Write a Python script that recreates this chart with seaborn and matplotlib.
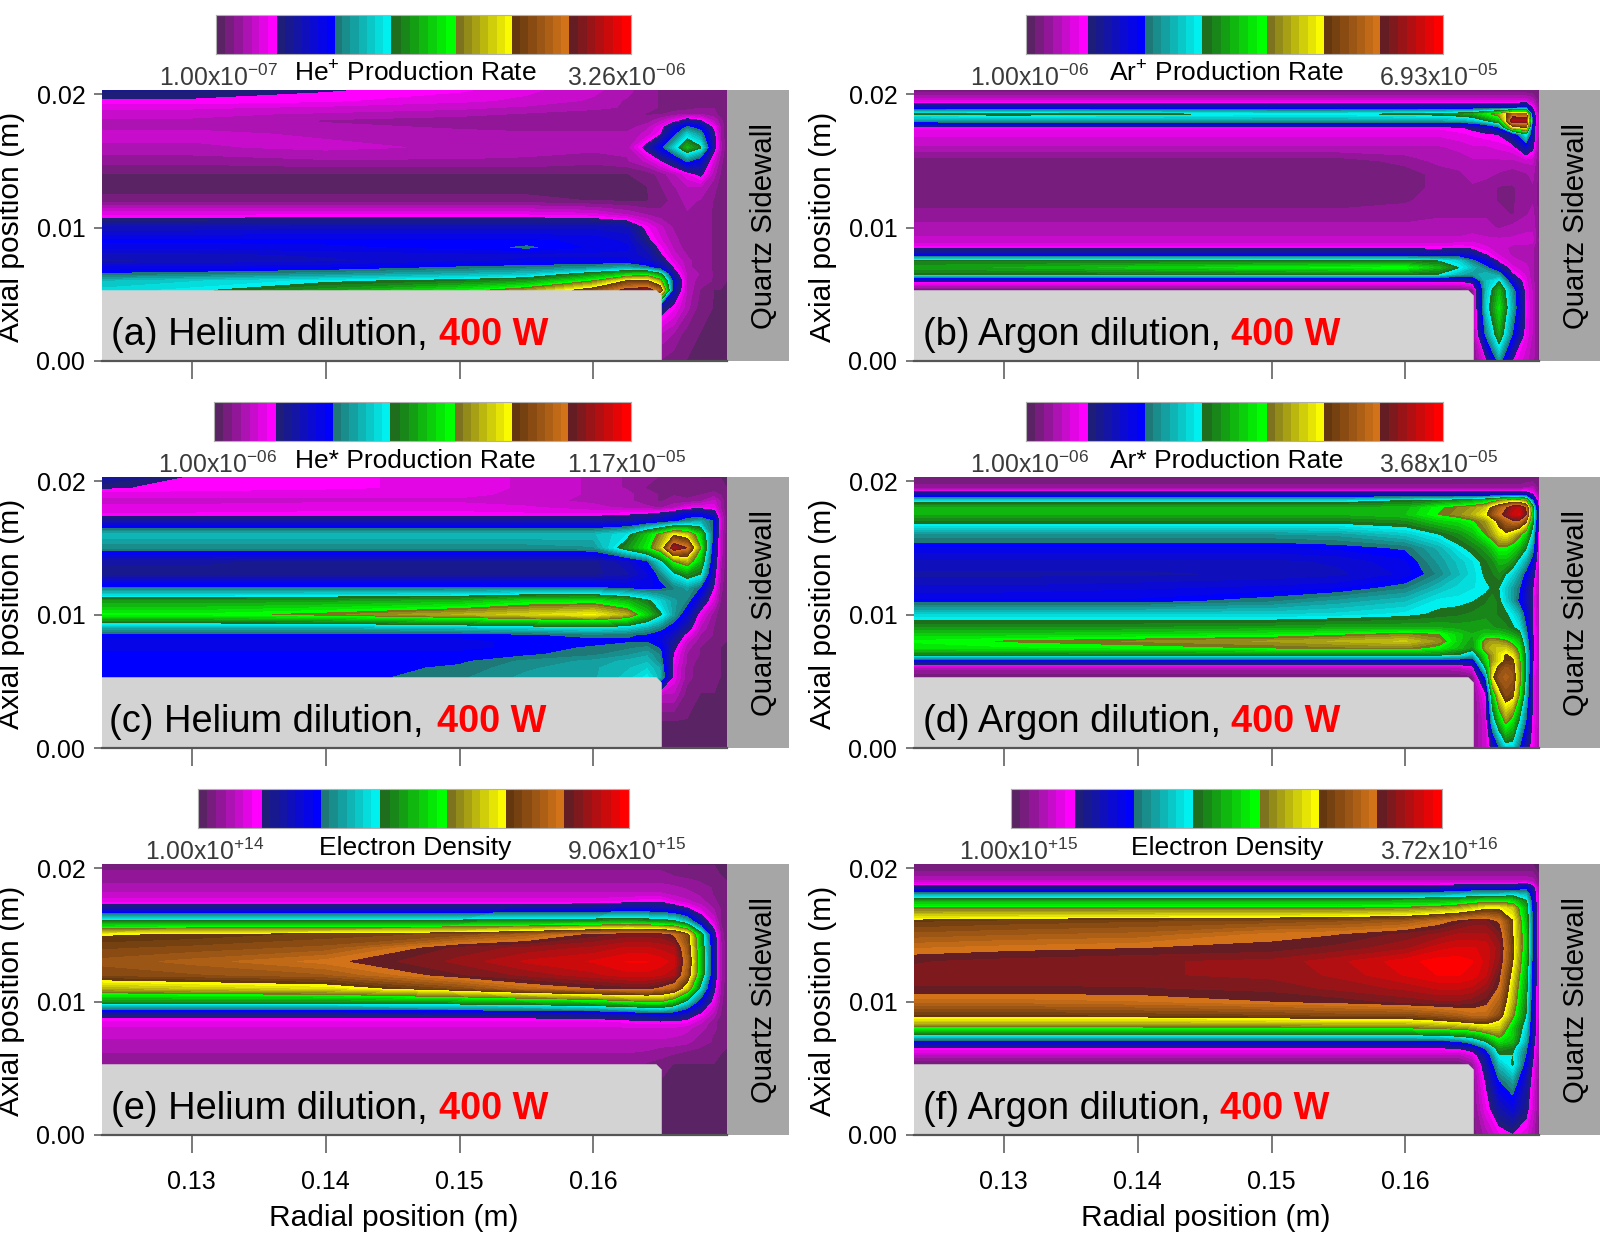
# ---------------------------
# PLASMA CONTOUR PANELS, HELIUM VS ARGON DILUTION
# ---------------------------

import numpy as np
import matplotlib
matplotlib.use("Agg")
import matplotlib.pyplot as plt
import seaborn as sns
from matplotlib.colors import BoundaryNorm, ListedColormap
from matplotlib.patches import Polygon, Rectangle

# ---------------------------
# DATA (percent of each panel's colour scale)
# ---------------------------

radial_m = [0.1233, 0.13, 0.14, 0.15, 0.155, 0.16, 0.1625, 0.164,
            0.165, 0.166, 0.167, 0.168, 0.169, 0.1695, 0.17]
# panel (d) has finer structure near the wall
radial_fine_m = [0.1233, 0.13, 0.14, 0.15, 0.155, 0.16, 0.1625, 0.164, 0.165,
                 0.166, 0.1665, 0.167, 0.1675, 0.168, 0.1685, 0.169, 0.1695, 0.17]
axial_m = [0.0203, 0.0195, 0.019, 0.0185, 0.018, 0.0175, 0.017, 0.016, 0.015,
           0.014, 0.013, 0.012, 0.011, 0.01, 0.009, 0.0085, 0.008, 0.0075,
           0.007, 0.0065, 0.006, 0.0053, 0.004, 0.002, 0.0]

he_ion = [
    [17, 17, 15, 13, 11, 9, 7, 5, 4, 3, 3, 3, 3, 3, 2],
    [14, 14, 13, 11, 10, 8, 6, 5, 4, 3, 3, 3, 3, 3, 2],
    [11, 11, 10, 9, 8, 7, 6, 5, 4, 3, 3, 4, 4, 3, 2],
    [9, 9, 8, 7, 6, 5, 5, 4, 4, 5, 6, 6, 5, 3, 2],
    [8, 8, 6, 5, 5, 5, 5, 5, 8, 12, 18, 15, 8, 5, 2],
    [8, 8, 7, 6, 5, 5, 5, 8, 12, 22, 30, 26, 13, 6, 2],
    [9, 9, 8, 7, 7, 7, 7, 9, 14, 26, 38, 32, 16, 6, 2],
    [8, 8, 9, 8, 7, 7, 7, 17, 26, 38, 50, 43, 17, 7, 2],
    [5, 5, 6, 6, 6, 5, 6, 9, 14, 20, 30, 24, 10, 5, 2],
    [2, 2, 2, 2, 2, 2, 2, 3, 5, 8, 12, 16, 7, 4, 2],
    [1, 1, 1, 1, 1, 1, 1, 2, 4, 6, 8, 8, 5, 3, 2],
    [3, 3, 3, 3, 3, 2, 2, 2, 3, 5, 7, 6, 4, 3, 2],
    [12, 12, 12, 12, 12, 11, 8, 6, 5, 6, 6, 5, 4, 3, 2],
    [21, 21, 22, 22, 22, 22, 21, 13, 9, 6, 5, 5, 4, 3, 2],
    [27, 27, 27, 27, 27, 26, 24, 16, 11, 7, 5, 5, 4, 3, 2],
    [25, 25, 26, 27, 29, 26, 25, 19, 13, 8, 5, 5, 4, 3, 2],
    [22, 22, 23, 24, 24, 24, 24, 21, 15, 9, 6, 5, 4, 3, 2],
    [20, 21, 22, 24, 25, 25, 25, 23, 18, 11, 7, 5, 4, 3, 2],
    [25, 25, 26, 29, 30, 32, 34, 30, 24, 14, 7, 5, 4, 3, 2],
    [29, 30, 32, 35, 37, 46, 52, 54, 45, 18, 8, 6, 4, 3, 2],
    [36, 38, 41, 44, 47, 58, 72, 73, 62, 24, 8, 5, 4, 3, 2],
    [39, 41, 48, 55, 62, 76, 88, 90, 80, 22, 8, 4, 2, 2, 2],
    [0, 0, 0, 0, 0, 0, 0, 0, 18, 13, 7, 3, 2, 2, 2],
    [0, 0, 0, 0, 0, 0, 0, 0, 8, 6, 3, 2, 2, 2, 2],
    [0, 0, 0, 0, 0, 0, 0, 0, 4, 3, 2, 2, 2, 2, 2],
]

ar_ion = [
    [2, 2, 2, 2, 2, 2, 2, 2, 2, 2, 2, 2, 2, 2, 2],
    [10, 10, 10, 10, 10, 10, 10, 10, 10, 10, 10, 10, 10, 8, 3],
    [22, 22, 22, 22, 22, 22, 22, 22, 22, 22, 22, 22, 25, 14, 3],
    [43, 44, 43, 41, 41, 43, 44, 46, 48, 55, 62, 80, 78, 20, 3],
    [32, 33, 33, 33, 33, 33, 33, 34, 36, 42, 50, 92, 92, 24, 3],
    [13, 13, 13, 13, 13, 13, 13, 14, 16, 19, 28, 68, 72, 20, 3],
    [11, 11, 11, 11, 11, 11, 11, 12, 13, 14, 15, 22, 42, 20, 3],
    [8, 8, 8, 8, 8, 8, 8, 9, 10, 10, 11, 12, 22, 16, 3],
    [3, 3, 3, 3, 3, 5, 7, 7, 8, 8, 8, 8, 9, 9, 3],
    [3, 3, 3, 3, 3, 3, 5, 6, 7, 7, 6, 5, 6, 7, 3],
    [3, 3, 3, 3, 3, 3, 5, 6, 6, 5, 4, 4, 5, 6, 3],
    [3, 3, 3, 3, 3, 4, 5, 6, 6, 5, 4, 4, 5, 6, 3],
    [5, 5, 5, 5, 5, 5, 6, 6, 6, 6, 5, 4, 6, 7, 3],
    [7, 7, 7, 7, 7, 7, 7, 7, 7, 7, 6, 7, 8, 8, 3],
    [9, 9, 9, 9, 9, 9, 9, 9, 10, 9, 9, 9, 9, 9, 3],
    [13, 13, 13, 13, 13, 13, 13, 14, 13, 11, 9, 8, 8, 7, 3],
    [22, 22, 22, 22, 22, 22, 20, 22, 20, 14, 10, 8, 8, 7, 3],
    [44, 44, 44, 44, 44, 44, 42, 38, 30, 24, 13, 9, 8, 7, 3],
    [48, 49, 52, 55, 56, 57, 50, 42, 36, 30, 20, 11, 9, 7, 3],
    [43, 43, 43, 43, 43, 43, 42, 35, 33, 36, 32, 15, 10, 7, 3],
    [15, 15, 15, 15, 15, 15, 15, 15, 18, 36, 42, 22, 11, 7, 3],
    [2, 2, 2, 2, 2, 2, 2, 2, 4, 36, 50, 32, 12, 8, 3],
    [0, 0, 0, 0, 0, 0, 0, 0, 3, 38, 54, 34, 13, 8, 3],
    [0, 0, 0, 0, 0, 0, 0, 0, 3, 30, 48, 28, 12, 8, 3],
    [0, 0, 0, 0, 0, 0, 0, 0, 3, 12, 32, 14, 9, 7, 3],
]

he_meta = [
    [20, 14, 13, 12, 10, 8, 6, 5, 4, 3, 3, 2, 2, 2, 2],
    [15, 14, 13, 12, 10, 8, 6, 4, 4, 3, 3, 3, 3, 3, 2],
    [11, 11, 11, 11, 10, 8, 7, 5, 4, 4, 3, 4, 5, 4, 2],
    [10, 10, 10, 10, 9, 8, 7, 5, 4, 5, 5, 6, 9, 6, 2],
    [11, 11, 12, 12, 11, 9, 8, 7, 6, 8, 12, 13, 12, 6, 2],
    [13, 13, 13, 13, 13, 13, 14, 15, 17, 20, 25, 24, 19, 8, 2],
    [19, 19, 19, 19, 19, 19, 20, 22, 24, 27, 31, 34, 28, 10, 2],
    [36, 36, 36, 36, 36, 36, 40, 52, 60, 70, 66, 52, 26, 8, 2],
    [31, 31, 31, 31, 31, 32, 46, 55, 65, 92, 85, 58, 22, 8, 2],
    [19, 19, 18, 18, 18, 18, 22, 28, 40, 58, 64, 50, 20, 7, 2],
    [18, 18, 18, 18, 18, 18, 20, 24, 30, 40, 46, 42, 17, 6, 2],
    [29, 29, 29, 29, 29, 29, 27, 26, 27, 30, 33, 28, 14, 5, 2],
    [47, 47, 48, 50, 54, 55, 50, 44, 38, 33, 30, 20, 10, 4, 2],
    [56, 56, 59, 64, 67, 70, 64, 52, 43, 33, 24, 12, 5, 3, 2],
    [34, 34, 34, 36, 38, 40, 38, 34, 30, 25, 18, 8, 4, 3, 2],
    [27, 27, 27, 27, 28, 30, 29, 28, 26, 21, 13, 6, 4, 3, 2],
    [26, 26, 26, 26, 27, 27, 28, 28, 25, 19, 9, 5, 3, 3, 2],
    [26, 26, 26, 26, 27, 29, 30, 31, 28, 16, 7, 4, 3, 2, 2],
    [27, 27, 27, 27, 28, 30, 32, 34, 30, 14, 6, 4, 3, 2, 2],
    [27, 27, 27, 28, 31, 33, 35, 36, 31, 13, 6, 3, 3, 2, 2],
    [27, 27, 27, 29, 32, 34, 36, 38, 34, 12, 5, 3, 3, 2, 2],
    [27, 27, 27, 30, 33, 34, 37, 41, 35, 12, 5, 3, 3, 2, 2],
    [0, 0, 0, 0, 0, 0, 0, 0, 8, 8, 3, 2, 2, 2, 2],
    [0, 0, 0, 0, 0, 0, 0, 0, 2, 2, 2, 2, 2, 2, 2],
    [0, 0, 0, 0, 0, 0, 0, 0, 2, 2, 2, 2, 2, 2, 2],
]

ar_meta = [
    [2, 2, 2, 2, 2, 2, 2, 2, 2, 2, 2, 2, 2, 2, 2, 2, 2, 2],
    [5, 5, 5, 5, 5, 5, 5, 5, 5, 5, 5, 5, 5, 5, 5, 6, 7, 3],
    [20, 20, 20, 20, 20, 20, 20, 20, 20, 20, 20, 20, 20, 20, 20, 20, 15, 4],
    [40, 40, 40, 40, 40, 43, 45, 47, 49, 52, 56, 60, 64, 68, 66, 60, 30, 8],
    [49, 49, 49, 49, 49, 50, 57, 60, 62, 66, 74, 80, 84, 92, 94, 84, 46, 9],
    [49, 49, 49, 49, 49, 51, 58, 61, 64, 70, 78, 83, 88, 94, 96, 86, 50, 10],
    [44, 44, 44, 44, 44, 46, 52, 54, 57, 62, 68, 74, 80, 84, 84, 74, 46, 10],
    [32, 32, 32, 32, 33, 37, 42, 46, 50, 58, 62, 68, 70, 66, 60, 52, 38, 8],
    [26, 26, 26, 26, 27, 29, 35, 41, 44, 48, 52, 57, 57, 54, 50, 43, 32, 7],
    [22, 22, 22, 22, 23, 26, 33, 37, 40, 44, 46, 50, 50, 47, 40, 34, 25, 5],
    [20, 20, 20, 21, 22, 25, 31, 36, 39, 43, 44, 46, 42, 38, 33, 26, 18, 5],
    [23, 23, 24, 25, 26, 30, 36, 39, 40, 41, 43, 42, 37, 33, 29, 22, 15, 5],
    [27, 27, 27, 30, 33, 36, 41, 41, 42, 44, 46, 43, 38, 33, 27, 21, 14, 5],
    [38, 38, 38, 38, 39, 41, 43, 44, 45, 46, 45, 44, 43, 40, 35, 25, 15, 5],
    [47, 47, 47, 48, 49, 49, 49, 48, 48, 48, 47, 46, 45, 43, 40, 29, 15, 6],
    [52, 52, 53, 55, 57, 60, 58, 52, 49, 52, 52, 52, 50, 48, 45, 32, 15, 6],
    [56, 58, 60, 62, 64, 66, 61, 52, 47, 61, 62, 61, 59, 55, 50, 35, 16, 6],
    [54, 55, 56, 58, 59, 60, 56, 50, 46, 62, 65, 66, 66, 62, 55, 38, 16, 6],
    [44, 44, 44, 44, 44, 44, 44, 42, 36, 56, 62, 68, 72, 68, 58, 40, 16, 6],
    [22, 22, 22, 22, 22, 22, 22, 22, 22, 52, 62, 68, 73, 74, 60, 40, 15, 6],
    [7, 7, 7, 7, 7, 7, 7, 8, 11, 44, 66, 74, 78, 76, 60, 40, 15, 6],
    [2, 2, 2, 2, 2, 2, 2, 2, 3, 30, 70, 78, 80, 78, 62, 40, 14, 6],
    [0, 0, 0, 0, 0, 0, 0, 0, 3, 14, 50, 68, 76, 74, 58, 36, 13, 6],
    [0, 0, 0, 0, 0, 0, 0, 0, 3, 10, 36, 50, 60, 54, 41, 28, 13, 6],
    [0, 0, 0, 0, 0, 0, 0, 0, 3, 10, 17, 28, 38, 38, 28, 18, 12, 6],
]

ne_he = [
    [3, 3, 3, 3, 3, 3, 3, 3, 3, 3, 2, 2, 2, 2, 2],
    [5, 5, 5, 5, 5, 5, 5, 5, 5, 4, 3, 3, 3, 2, 2],
    [6, 6, 6, 6, 6, 6, 6, 6, 6, 5, 5, 4, 3, 3, 2],
    [7, 7, 7, 7, 7, 7, 7, 7, 7, 7, 6, 5, 4, 3, 2],
    [9, 9, 9, 9, 9, 9, 9, 9, 9, 8, 7, 6, 4, 3, 2],
    [11.5, 11.5, 11.5, 11.5, 11.5, 11.5, 13, 14, 14, 11, 9, 7, 5, 3, 2],
    [18, 18, 18, 18, 19, 20, 21, 21, 20, 18, 15, 10, 6, 4, 2],
    [44, 44, 44, 45, 46, 47, 48, 47, 46, 44, 36, 20, 10, 4, 2],
    [71, 72, 74, 76, 80, 86, 88, 88, 88, 84, 75, 48, 18, 6, 2],
    [75, 76, 78, 88, 90, 92, 94, 94, 93, 92, 78, 50, 20, 7, 2],
    [78, 80, 84, 90, 94, 96, 98, 98, 97, 95, 80, 52, 20, 7, 2],
    [76, 77, 79, 87, 90, 93, 95, 95, 94, 92, 78, 50, 20, 7, 2],
    [64, 66, 68, 76, 82, 85, 86, 86, 84, 80, 66, 40, 16, 6, 2],
    [46, 46, 46, 48, 50, 53, 56, 58, 58, 52, 40, 25, 12, 5, 2],
    [16, 16, 16, 17, 17, 18, 20, 22, 23, 22, 18, 13, 7, 4, 2],
    [12, 12, 12, 12, 12, 12, 13, 14, 14, 14, 13, 9, 5, 3, 2],
    [10, 10, 10, 10, 10, 10, 10, 10, 10, 10, 9, 7, 5, 3, 2],
    [9, 9, 9, 9, 9, 9, 9, 9, 9, 9, 8, 6, 4, 3, 2],
    [8, 8, 8, 8, 8, 8, 8, 8, 8, 7, 7, 5, 4, 3, 2],
    [7, 7, 7, 7, 7, 7, 7, 7, 6, 6, 5, 4, 3, 3, 2],
    [6, 6, 6, 6, 6, 6, 6, 5, 5, 4, 3, 3, 3, 2, 2],
    [5, 5, 5, 5, 5, 5, 5, 4, 3, 2, 2, 2, 2, 2, 2],
    [0, 0, 0, 0, 0, 0, 0, 0, 2, 2, 2, 2, 2, 2, 2],
    [0, 0, 0, 0, 0, 0, 0, 0, 2, 2, 2, 2, 2, 2, 2],
    [0, 0, 0, 0, 0, 0, 0, 0, 2, 2, 2, 2, 2, 2, 2],
]

ne_ar = [
    [2, 2, 2, 2, 2, 2, 2, 2, 2, 2, 2, 2, 2, 2, 2],
    [5, 5, 5, 5, 5, 5, 5, 5, 5, 5, 5, 5, 5, 5, 2],
    [9, 9, 9, 9, 9, 9, 9, 9, 9, 9, 9, 9, 9, 8, 3],
    [18, 18, 18, 18, 18, 18, 18, 20, 22, 22, 22, 22, 26, 18, 5],
    [34, 34, 34, 34, 34, 34, 35, 36, 37, 38, 38, 40, 36, 22, 5],
    [49, 49, 49, 49, 49, 50, 50, 52, 54, 56, 56, 54, 44, 24, 5],
    [58, 58, 58, 58, 58, 59, 61, 63, 66, 70, 70, 66, 48, 26, 5],
    [73, 74, 75, 76, 77, 79, 83, 86, 88, 88, 84, 72, 50, 27, 5],
    [78, 79, 80, 84, 85, 88, 90, 92, 92, 92, 88, 72, 52, 27, 5],
    [83, 84, 85, 86, 88, 91, 95, 96, 96, 95, 90, 73, 52, 27, 5],
    [87, 88, 89, 90, 93, 97, 99, 99, 98, 95, 89, 72, 50, 26, 5],
    [88, 88, 89, 90, 92, 96, 98, 98, 97, 94, 86, 69, 48, 25, 5],
    [87, 87, 87, 88, 90, 92, 94, 94, 93, 90, 84, 66, 46, 24, 5],
    [82, 82, 83, 85, 86, 88, 89, 89, 88, 86, 80, 64, 44, 23, 5],
    [73, 73, 74, 75, 76, 76, 78, 80, 82, 82, 76, 60, 42, 22, 5],
    [66, 66, 66, 67, 68, 68, 70, 72, 74, 74, 70, 56, 40, 21, 5],
    [56, 56, 56, 56, 57, 57, 59, 60, 62, 66, 66, 52, 38, 20, 5],
    [42, 42, 42, 42, 42, 42, 43, 46, 48, 54, 60, 52, 36, 20, 5],
    [25, 25, 25, 25, 25, 25, 26, 28, 34, 42, 54, 50, 34, 18, 4],
    [14, 14, 14, 14, 14, 14, 14, 15, 18, 30, 46, 44, 30, 17, 4],
    [8, 8, 8, 8, 8, 8, 8, 8, 11, 22, 42, 42, 28, 16, 4],
    [2, 2, 2, 2, 2, 2, 2, 2, 5, 19, 36, 43, 25, 14, 3],
    [0, 0, 0, 0, 0, 0, 0, 0, 4, 15, 28, 33, 20, 12, 3],
    [0, 0, 0, 0, 0, 0, 0, 0, 3, 12, 20, 24, 17, 10, 3],
    [0, 0, 0, 0, 0, 0, 0, 0, 3, 7, 12, 14, 11, 7, 3],
]

fields = [he_ion, ar_ion, he_meta, ar_meta, ne_he, ne_ar]
field_radii = [radial_m, radial_m, radial_m, radial_fine_m, radial_m, radial_m]
scale_titles = ["He$^{+}$ Production Rate", "Ar$^{+}$ Production Rate",
                "He* Production Rate", "Ar* Production Rate",
                "Electron Density", "Electron Density"]
scale_lows = ["1.00x10$^{-07}$", "1.00x10$^{-06}$", "1.00x10$^{-06}$",
              "1.00x10$^{-06}$", "1.00x10$^{+14}$", "1.00x10$^{+15}$"]
scale_highs = ["3.26x10$^{-06}$", "6.93x10$^{-05}$", "1.17x10$^{-05}$",
               "3.68x10$^{-05}$", "9.06x10$^{+15}$", "3.72x10$^{+16}$"]
panel_labels = ["(a) Helium dilution,", "(b) Argon dilution,",
                "(c) Helium dilution,", "(d) Argon dilution,",
                "(e) Helium dilution,", "(f) Argon dilution,"]
power_label = "400 W"
radial_ticks = [0.13, 0.14, 0.15, 0.16]
radial_tick_labels = ["0.13", "0.14", "0.15", "0.16"]
axial_ticks = [0.0, 0.01, 0.02]
axial_tick_labels = ["0.00", "0.01", "0.02"]

# colour scale: 7 families, each runs dark to bright
family_breaks = [0, 14.7, 28.5, 42.2, 57.8, 71.5, 85.1, 100]
family_colors = [((90, 35, 100), (255, 0, 255)),
                 ((30, 30, 120), (0, 0, 255)),
                 ((30, 120, 120), (0, 240, 240)),
                 ((30, 110, 30), (0, 255, 0)),
                 ((125, 115, 30), (250, 250, 0)),
                 ((100, 55, 15), (210, 115, 25)),
                 ((100, 30, 35), (255, 0, 0))]

# ---------------------------
# COLOUR BANDS
# ---------------------------

BANDS_PER_FAMILY = 7

levels = [0.0]
band_colors = []
for i, (dark, bright) in enumerate(family_colors):
    edges = np.linspace(family_breaks[i], family_breaks[i + 1], BANDS_PER_FAMILY + 1)
    levels.extend(edges[1:])
    for t in np.linspace(0, 1, BANDS_PER_FAMILY):
        band_colors.append(tuple((np.array(dark) * (1 - t) + np.array(bright) * t) / 255))

band_cmap = ListedColormap(band_colors)
band_norm = BoundaryNorm(levels, band_cmap.N)

# ---------------------------
# FIGURE
# ---------------------------

sns.set_theme(style="ticks")
plt.rcParams['font.family'] = ['Liberation Sans', 'DejaVu Sans']
plt.rcParams['mathtext.default'] = 'regular'

W, H = 1600, 1233
fig = plt.figure(figsize=(W / 100, H / 100), dpi=100)

AXIS_GREY = "#555555"
LABEL_GREY = "#3a3a3a"

# pixel layout, one entry per panel
plot_left = [102, 914, 102, 914, 102, 914]
plot_top = [90, 90, 477, 477, 864, 864]
PLOT_W, PLOT_H = 687, 271
bar_x = [(216, 631), (1026, 1443), (214, 631), (1026, 1443), (198, 629), (1011, 1442)]
bar_y = [15, 15, 402, 402, 789, 789]
BAR_H = 39
title_x = [415, 1227, 415, 1227, 415, 1227]
low_x = [277.5, 1089, 276.5, 1089, 264, 1078]
high_x = [686, 1498, 686, 1498, 686, 1498]
text_x = [111, 923, 109, 923, 111, 923]
red_x = [439, 1231, 437, 1231, 439, 1220]

Z = np.array(axial_m)[::-1]


def fx(x):
    return x / W


def fy(y):
    return 1 - y / H


for i, field in enumerate(fields):
    left, top = plot_left[i], plot_top[i]
    ax = fig.add_axes([fx(left), fy(top + PLOT_H), PLOT_W / W, PLOT_H / H])

    values = np.array(field, dtype=float)[::-1]
    ax.contourf(np.array(field_radii[i]), Z, values, levels=levels,
                colors=band_colors, antialiased=False)

    # quartz wall and the grey block
    ax.add_patch(Rectangle((0.17, 0), 0.0046, 0.0203, color="#a6a6a6", lw=0, zorder=3))
    ax.add_patch(Polygon([(0.1233, 0), (0.1233, 0.0053), (0.1647, 0.0053),
                          (0.1651, 0.0049), (0.1651, 0)],
                         closed=True, color="#d3d3d3", lw=0, zorder=3))

    ax.set_xlim(0.1233, 0.1746)
    ax.set_ylim(0, 0.0203)
    ax.set_xticks(radial_ticks)
    ax.set_yticks(axial_ticks)
    ax.set_yticklabels(axial_tick_labels, fontsize=18, color="black")
    ax.tick_params(axis="x", length=13, width=1.1, color=AXIS_GREY, pad=12.5)
    ax.tick_params(axis="y", length=6, width=1.1, color=AXIS_GREY, pad=6)
    if i >= 4:
        ax.set_xticklabels(radial_tick_labels, fontsize=18, color="black")
        ax.set_xlabel("Radial position (m)", fontsize=21.5, color="black")
        ax.xaxis.set_label_coords(0.425, -0.255)
    else:
        ax.set_xticklabels([])
    ax.set_ylabel("Axial position (m)", fontsize=21.6, color="black")
    ax.yaxis.set_label_coords(-77 / PLOT_W, 0.495)

    sns.despine(ax=ax, top=True, right=True, left=True, bottom=False)
    ax.spines["bottom"].set_bounds(0.1233, 0.17)
    ax.spines["bottom"].set_color(AXIS_GREY)
    ax.spines["bottom"].set_linewidth(1.6)
    ax.spines["bottom"].set_zorder(5)

    ax.text(0.1727, 0.0101, "Quartz Sidewall", rotation=90, fontsize=21.2,
            ha="center", va="center", color="black", zorder=6)

    # panel label, black then red
    fig.text(fx(text_x[i]), fy(top + 245), panel_labels[i], fontsize=27.4,
             ha="left", va="center", color="black")
    fig.text(fx(red_x[i]), fy(top + 245), power_label, fontsize=27.3, weight="bold",
             ha="left", va="center", color="#ff0000")

    # colour scale
    x0, x1 = bar_x[i]
    cax = fig.add_axes([fx(x0), fy(bar_y[i] + BAR_H), (x1 - x0) / W, BAR_H / H])
    scale = np.linspace(0.01, 99.99, 420).reshape(1, -1)
    sns.heatmap(scale, ax=cax, cmap=band_cmap, norm=band_norm, cbar=False,
                xticklabels=False, yticklabels=False, rasterized=True)
    for side in cax.spines.values():
        side.set_visible(True)
        side.set_color("#b0b0b0")
        side.set_linewidth(0.8)

    fig.text(fx(title_x[i]), fy(bar_y[i] + 59), scale_titles[i], fontsize=19,
             ha="center", va="center", color="black")
    fig.text(fx(low_x[i]), fy(bar_y[i] + 63), scale_lows[i], fontsize=17.8,
             ha="right", va="center", color=LABEL_GREY)
    fig.text(fx(high_x[i]), fy(bar_y[i] + 63), scale_highs[i], fontsize=17.8,
             ha="right", va="center", color=LABEL_GREY)

fig.savefig("out.png", dpi=100)
